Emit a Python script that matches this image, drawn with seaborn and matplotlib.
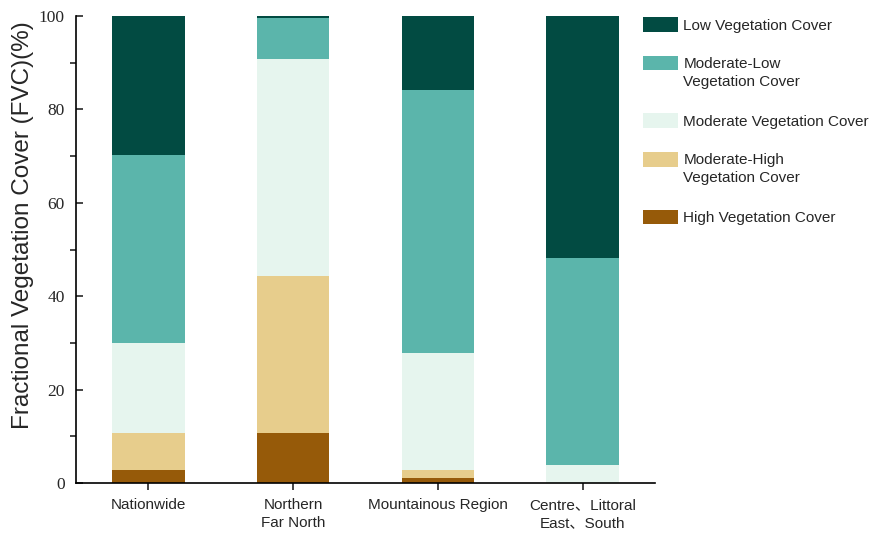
import numpy as np
import pandas as pd
import matplotlib
matplotlib.use("Agg")
import matplotlib.pyplot as plt
from matplotlib.patches import Patch, Rectangle
from matplotlib.legend_handler import HandlerPatch
from matplotlib.ticker import MultipleLocator
import seaborn as sns

regions = ["Nationwide", "Northern\nFar North", "Mountainous Region", "Centre、Littoral\nEast、South"]
categories = ["Low Vegetation Cover", "Moderate-Low\nVegetation Cover", "Moderate Vegetation Cover",
              "Moderate-High\nVegetation Cover", "High Vegetation Cover"]
# shares (%) per class, bottom to top: High, Moderate-High, Moderate, Moderate-Low, Low
high = [2.8, 10.7, 1.1, 0.0]
moderate_high = [7.9, 33.6, 1.7, 0.0]
moderate = [19.3, 46.4, 25.0, 3.9]
moderate_low = [40.2, 8.9, 56.4, 44.3]
low = [29.8, 0.4, 15.8, 51.8]

colors = {
    "Low Vegetation Cover": "#024b42",
    "Moderate-Low\nVegetation Cover": "#5bb5ab",
    "Moderate Vegetation Cover": "#e6f5ee",
    "Moderate-High\nVegetation Cover": "#e7cd8c",
    "High Vegetation Cover": "#965a09",
}

layers = [high, moderate_high, moderate, moderate_low, low]
layer_names = categories[::-1]
cum = np.cumsum(np.array(layers), axis=0)

sns.set_theme(style="ticks")
plt.rcParams["font.family"] = ["Liberation Sans", "Noto Sans CJK SC", "DejaVu Sans"]

fig = plt.figure(figsize=(8.74, 5.36), dpi=100)
ax = fig.add_axes([76 / 874, 1 - 483 / 536, (655 - 76) / 874, 467 / 536])

# draw cumulative bars from top layer down so lower layers overlay
for i in range(len(layers) - 1, -1, -1):
    df = pd.DataFrame({"region": regions, "value": cum[i]})
    sns.barplot(data=df, x="region", y="value", color=colors[layer_names[i]],
                saturation=1, width=0.5, ax=ax, linewidth=0, edgecolor="none")

ax.set_xlim(-0.5, 3.5)
ax.set_ylim(0, 100)
ax.set_xlabel("")
ax.set_ylabel("Fractional Vegetation Cover (FVC)(%)", fontsize=17.5)
ax.yaxis.set_label_coords(-0.073, 0.553)
ax.yaxis.set_major_locator(MultipleLocator(20))
ax.yaxis.set_minor_locator(MultipleLocator(10))
ax.tick_params(axis="y", which="major", direction="in", length=5, width=1.2, labelsize=12.5, pad=8)
ax.tick_params(axis="y", which="minor", direction="out", length=4, width=1.2)
ax.tick_params(axis="x", which="major", direction="out", length=5, width=1.2, labelsize=11, pad=6)
for lab in ax.get_yticklabels():
    lab.set_fontfamily(["Liberation Serif", "DejaVu Serif"])
for lab in ax.get_xticklabels():
    lab.set_fontfamily(["Liberation Sans", "Noto Sans CJK SC"])
    lab.set_linespacing(1.35)
sns.despine(ax=ax)
for s in ["left", "bottom"]:
    ax.spines[s].set_linewidth(1.2)
    ax.spines[s].set_color("black")


class TopAlignedPatch(HandlerPatch):
    def __init__(self, shift):
        super().__init__()
        self.shift = shift

    def create_artists(self, legend, orig_handle, xdescent, ydescent, width, height, fontsize, trans):
        p = Rectangle((-xdescent, -ydescent + self.shift), width, height)
        self.update_prop(p, orig_handle, legend)
        p.set_transform(trans)
        return [p]


handles = [Patch(facecolor=colors[c], edgecolor="none", label=c) for c in categories]
hmap = {h: TopAlignedPatch(7.3 if "\n" in h.get_label() else 0.0) for h in handles}
leg = fig.legend(handles=handles, handler_map=hmap, loc="upper left",
                 bbox_to_anchor=(643 / 874, 1 - 17 / 536),
                 frameon=False, fontsize=11, labelspacing=1.6, handlelength=2.3,
                 handleheight=1.1, handletextpad=0.35, borderpad=0, borderaxespad=0)
for t in leg.get_texts():
    t.set_linespacing(1.35)

fig.savefig("out.png", dpi=100)
